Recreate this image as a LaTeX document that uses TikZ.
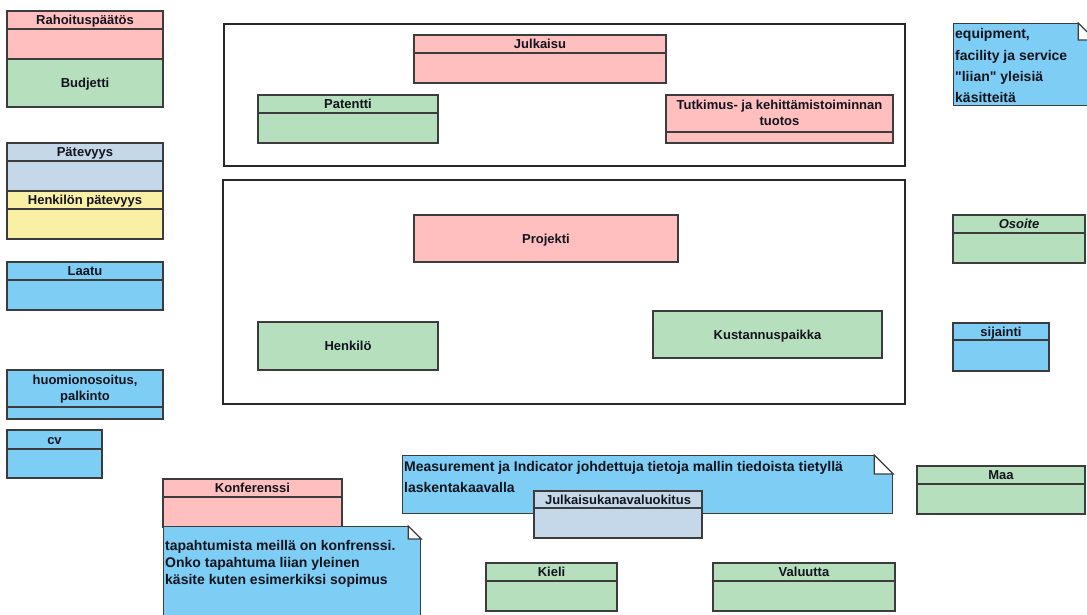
\documentclass[tikz,border=0pt]{standalone}
\usepackage{fontspec}
\setmainfont{Liberation Sans}
\usetikzlibrary{positioning}

\definecolor{pinkc}{RGB}{255,191,191}
\definecolor{greenc}{RGB}{181,223,189}
\definecolor{greyblue}{RGB}{196,216,234}
\definecolor{yellowc}{RGB}{250,240,165}
\definecolor{bluec}{RGB}{125,205,245}
\definecolor{linec}{RGB}{60,60,60}
\definecolor{framec}{RGB}{40,40,40}
\definecolor{textc}{RGB}{20,20,30}

\begin{document}
\begin{tikzpicture}[
    x=1pt, y=-1pt,
    hdr/.style={rectangle, draw=linec, line width=1.2pt, outer sep=0pt, anchor=north west, inner sep=0pt, align=center, text=textc, text height=11pt, text depth=1.7pt, font=\fontsize{13}{16.5}\selectfont\bfseries},
    twoline/.style={text height={}, text depth=1.2pt},
    body/.style={rectangle, draw=linec, line width=1.2pt, outer sep=0pt, inner sep=0pt},
    frame/.style={rectangle, draw=framec, line width=1.6pt, anchor=north west, inner sep=0pt},
    note/.style={rectangle, draw=linec, line width=1.2pt, fill=bluec, anchor=north west, inner sep=0pt},
    notetext/.style={anchor=north west, inner sep=0pt, align=left, text=textc},
    fold/.style={draw=linec, line width=1.2pt, fill=white}
  ]

    \useasboundingbox (0,0) rectangle (1087,614);
    \clip (0,0) rectangle (1087,614);

    % Frames
    \node[frame, minimum width=681pt, minimum height=142pt] (frameTop) at (223,23) {};
    \node[frame, minimum width=682pt, minimum height=224pt] (frameMid) at (222,179) {};

    % Left column
    \node[hdr, fill=pinkc, minimum width=156pt, minimum height=18pt] (rahoitus) at (7,11) {Rahoituspäätös};
    \node[body, fill=pinkc, minimum width=156pt, minimum height=30pt, below=0pt of rahoitus] (rahoitusBody) {};
    \node[hdr, anchor=north, fill=greenc, minimum width=156pt, minimum height=48pt, below=0pt of rahoitusBody] (budjetti) {Budjetti};

    \node[hdr, fill=greyblue, minimum width=156pt, minimum height=18pt] (patevyys) at (7,143) {Pätevyys};
    \node[body, fill=greyblue, minimum width=156pt, minimum height=30pt, below=0pt of patevyys] (patevyysBody) {};
    \node[hdr, anchor=north, fill=yellowc, minimum width=156pt, minimum height=18pt, below=0pt of patevyysBody] (henkPatevyys) {Henkilön pätevyys};
    \node[body, fill=yellowc, minimum width=156pt, minimum height=30pt, below=0pt of henkPatevyys] (henkPatevyysBody) {};

    \node[hdr, fill=bluec, minimum width=156pt, minimum height=18pt] (laatu) at (7,262) {Laatu};
    \node[body, fill=bluec, minimum width=156pt, minimum height=30pt, below=0pt of laatu] (laatuBody) {};

    \node[hdr, twoline, fill=bluec, minimum width=156pt, minimum height=37pt] (huomio) at (7,370) {huomionosoitus,\\palkinto};
    \node[body, fill=bluec, minimum width=156pt, minimum height=12pt, below=0pt of huomio] (huomioBody) {};

    \node[hdr, fill=bluec, minimum width=95pt, minimum height=19pt] (cv) at (7,430) {cv};
    \node[body, fill=bluec, minimum width=95pt, minimum height=29pt, below=0pt of cv] (cvBody) {};

    % Top frame: outputs
    \node[hdr, fill=pinkc, minimum width=252pt, minimum height=18pt] (julkaisu) at (414,35) {Julkaisu};
    \node[body, fill=pinkc, minimum width=252pt, minimum height=30pt, below=0pt of julkaisu] (julkaisuBody) {};

    \node[hdr, fill=greenc, minimum width=180pt, minimum height=18pt] (patentti) at (258,95) {Patentti};
    \node[body, fill=greenc, minimum width=180pt, minimum height=30pt, below=0pt of patentti] (patenttiBody) {};

    \node[hdr, twoline, fill=pinkc, minimum width=227pt, minimum height=37pt] (tutkimus) at (666,95) {Tutkimus- ja kehittämistoiminnan\\tuotos};
    \node[body, fill=pinkc, minimum width=227pt, minimum height=11pt, below=0pt of tutkimus] (tutkimusBody) {};

    % Middle frame
    \node[hdr, fill=pinkc, minimum width=264pt, minimum height=47pt] (projekti) at (414,215) {Projekti};
    \node[hdr, fill=greenc, minimum width=180pt, minimum height=48pt] (henkilo) at (258,322) {Henkilö};
    \node[hdr, fill=greenc, minimum width=229pt, minimum height=47pt] (kustannus) at (653,311) {Kustannuspaikka};

    % Right column
    \node[note, minimum width=141pt, minimum height=82pt] (equipNote) at (953,23) {};
    \fill[white] ([xshift=-17pt]equipNote.north east) -- ([shift={(2pt,2pt)}]equipNote.north east) -- ([yshift=-17pt]equipNote.north east) -- cycle;
    \draw[fold] ([xshift=-17pt]equipNote.north east) |- ([yshift=-17pt]equipNote.north east) -- cycle;
    \node[notetext, font=\fontsize{14}{21.3}\selectfont\bfseries] (equipText) at (955,28.5) {equipment,\\facility ja service\\\textquotedbl liian\textquotedbl\ yleisiä\\käsitteitä};

    \node[hdr, fill=greenc, minimum width=132pt, minimum height=18pt] (osoite) at (953,215) {\itshape Osoite};
    \node[body, fill=greenc, minimum width=132pt, minimum height=30pt, below=0pt of osoite] (osoiteBody) {};

    \node[hdr, fill=bluec, minimum width=96pt, minimum height=17pt] (sijainti) at (953,323) {sijainti};
    \node[body, fill=bluec, minimum width=96pt, minimum height=31pt, below=0pt of sijainti] (sijaintiBody) {};

    \node[hdr, fill=greenc, minimum width=168pt, minimum height=18pt] (maa) at (917,466) {Maa};
    \node[body, fill=greenc, minimum width=168pt, minimum height=30pt, below=0pt of maa] (maaBody) {};

    % Bottom row
    \node[hdr, fill=pinkc, minimum width=179pt, minimum height=18pt] (konferenssi) at (163,479) {Konferenssi};
    \node[body, fill=pinkc, minimum width=179pt, minimum height=30pt, below=0pt of konferenssi] (konferenssiBody) {};

    \node[note, minimum width=257pt, minimum height=95pt] (tapahtumaNote) at (163,526) {};
    \fill[white] ([xshift=-13pt]tapahtumaNote.north east) -- ([shift={(2pt,2pt)}]tapahtumaNote.north east) -- ([yshift=-13pt]tapahtumaNote.north east) -- cycle;
    \draw[fold] ([xshift=-13pt]tapahtumaNote.north east) |- ([yshift=-13pt]tapahtumaNote.north east) -- cycle;
    \node[notetext, font=\fontsize{14}{17}\selectfont\bfseries] (tapahtumaText) at (165,540.5) {tapahtumista meillä on konfrenssi.\\Onko tapahtuma liian yleinen\\käsite kuten esimerkiksi sopimus};

    \node[note, minimum width=490pt, minimum height=58pt] (measNote) at (402,455) {};
    \fill[white] ([xshift=-19pt]measNote.north east) -- ([shift={(2pt,2pt)}]measNote.north east) -- ([yshift=-19pt]measNote.north east) -- cycle;
    \draw[fold] ([xshift=-19pt]measNote.north east) |- ([yshift=-19pt]measNote.north east) -- cycle;
    \node[notetext, font=\fontsize{14}{21}\selectfont\bfseries] (measText) at (404,461.5) {Measurement ja Indicator johdettuja tietoja mallin tiedoista tietyllä\\laskentakaavalla};

    \node[hdr, fill=greyblue, minimum width=168pt, minimum height=17pt] (kanava) at (534,491) {Julkaisukanavaluokitus};
    \node[body, fill=greyblue, minimum width=168pt, minimum height=30pt, below=0pt of kanava] (kanavaBody) {};

    \node[hdr, fill=greenc, minimum width=131pt, minimum height=18pt] (kieli) at (486,563) {Kieli};
    \node[body, fill=greenc, minimum width=131pt, minimum height=30pt, below=0pt of kieli] (kieliBody) {};

    \node[hdr, fill=greenc, minimum width=182pt, minimum height=18pt] (valuutta) at (713,563) {Valuutta};
    \node[body, fill=greenc, minimum width=182pt, minimum height=30pt, below=0pt of valuutta] (valuuttaBody) {};
  \end{tikzpicture}
\end{document}
